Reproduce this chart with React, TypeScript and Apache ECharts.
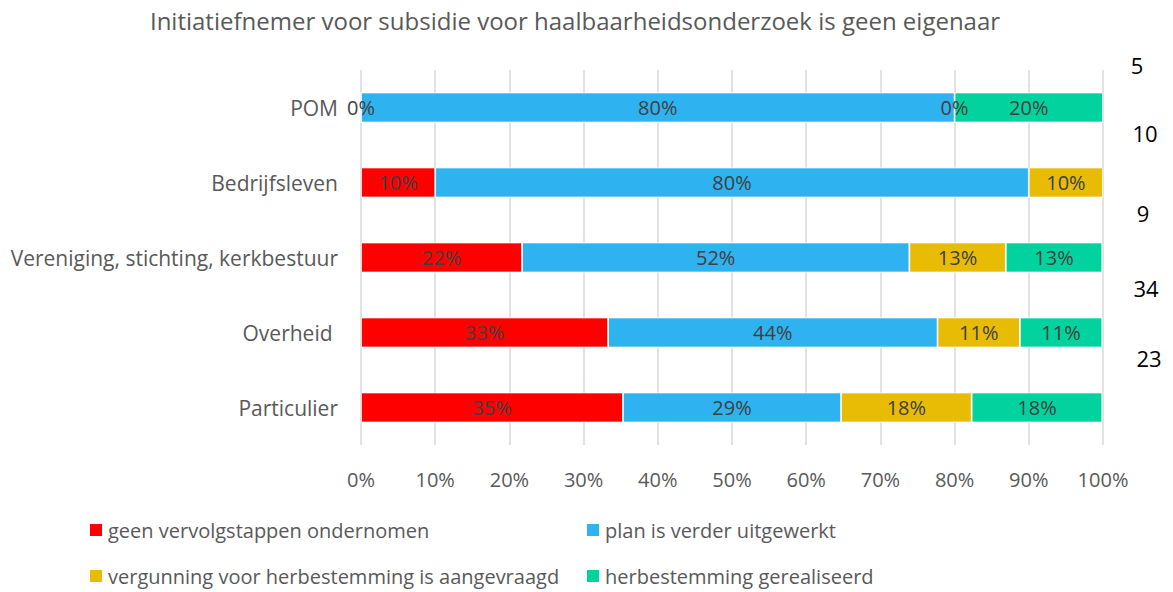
import React, { useEffect, useRef } from "react";
import * as echarts from "echarts";

const title = "Initiatiefnemer voor subsidie voor haalbaarheidsonderzoek is geen eigenaar";
const categories = ["POM", "Bedrijfsleven", "Vereniging, stichting, kerkbestuur", "Overheid ", "Particulier"];
const seriesNames = [
  "geen vervolgstappen ondernomen",
  "plan is verder uitgewerkt",
  "vergunning voor herbestemming is aangevraagd",
  "herbestemming gerealiseerd",
];
const geenVervolg: (number | null)[] = [0, 10, 21.7, 33.3, 35.3];
const planUitgewerkt: (number | null)[] = [80, 80, 52.2, 44.4, 29.4];
const vergunning: (number | null)[] = [0, 10, 13.0, 11.1, 17.6];
const gerealiseerd: (number | null)[] = [20, null, 13.0, 11.1, 17.6];
const sideCounts = ["5", "10", "9", "34", "23"];
const xTicks = [0, 10, 20, 30, 40, 50, 60, 70, 80, 90, 100];

const colors = ["#FF0000", "#2EB3F0", "#E8BC05", "#02D39E"];
const FONT = "'Open Sans', sans-serif";

export default function App() {
  const ref = useRef<HTMLDivElement>(null);
  useEffect(() => {
    if (!ref.current) return;
    const chart = echarts.init(ref.current, undefined, { renderer: "svg" });
    const dataSets = [geenVervolg, planUitgewerkt, vergunning, gerealiseerd];
    const countPos = [
      { x: 1137, y: 65 },
      { x: 1145, y: 133 },
      { x: 1143, y: 213 },
      { x: 1146, y: 288 },
      { x: 1149, y: 358 },
    ];
    const legendPos = [
      { left: 83, top: 515 },
      { left: 580, top: 515 },
      { left: 83, top: 561 },
      { left: 580, top: 561 },
    ];
    const legendText = { color: "#595959", fontSize: 20, fontFamily: FONT };
    chart.setOption({
      animation: false,
      textStyle: { fontFamily: FONT },
      grid: { left: 361, right: 70, top: 70, bottom: 147, containLabel: false },
      xAxis: {
        type: "value",
        min: xTicks[0],
        max: xTicks[xTicks.length - 1],
        interval: 10,
        axisLine: { show: false },
        axisTick: { show: false },
        splitLine: { show: true, lineStyle: { color: "#D9D9D9", width: 1.5 } },
        axisLabel: { formatter: "{value}%", color: "#595959", fontSize: 20, margin: 24, fontFamily: FONT },
      },
      yAxis: {
        type: "category",
        inverse: true,
        data: categories,
        axisLine: { show: false },
        axisTick: { show: false },
        axisLabel: { color: "#595959", fontSize: 21, margin: 23, fontFamily: FONT },
      },
      legend: seriesNames.map((name, i) => ({
        data: [name],
        left: legendPos[i].left,
        top: legendPos[i].top,
        itemWidth: 14,
        itemHeight: 14,
        itemGap: 5,
        icon: "rect",
        textStyle: legendText,
      })),
      graphic: [
        {
          type: "text",
          x: 575,
          y: 20,
          style: {
            text: title,
            fill: "#595959",
            font: `24px ${FONT}`,
            textAlign: "center",
            textVerticalAlign: "middle",
          },
        },
        ...sideCounts.map((t, i) => ({
          type: "text",
          x: countPos[i].x,
          y: countPos[i].y,
          style: {
            text: t,
            fill: "#000000",
            font: `22px ${FONT}`,
            textAlign: "center",
            textVerticalAlign: "middle",
          },
        })),
      ],
      series: seriesNames.map((name, i) => ({
        name,
        type: "bar",
        stack: "total",
        barWidth: 30,
        data: dataSets[i],
        itemStyle: { color: colors[i], borderColor: "#FFFFFF", borderWidth: 0.8 },
        label: {
          show: true,
          position: "inside",
          color: "#404040",
          fontSize: 20,
          fontFamily: FONT,
          formatter: (p: any) => (p.value == null ? "" : `${Math.round(p.value)}%`),
        },
      })),
    });
    return () => chart.dispose();
  }, []);
  return (
    <div
      ref={ref}
      style={{ position: "fixed", left: 0, top: 0, width: 1173, height: 592, background: "#FFFFFF" }}
    />
  );
}
